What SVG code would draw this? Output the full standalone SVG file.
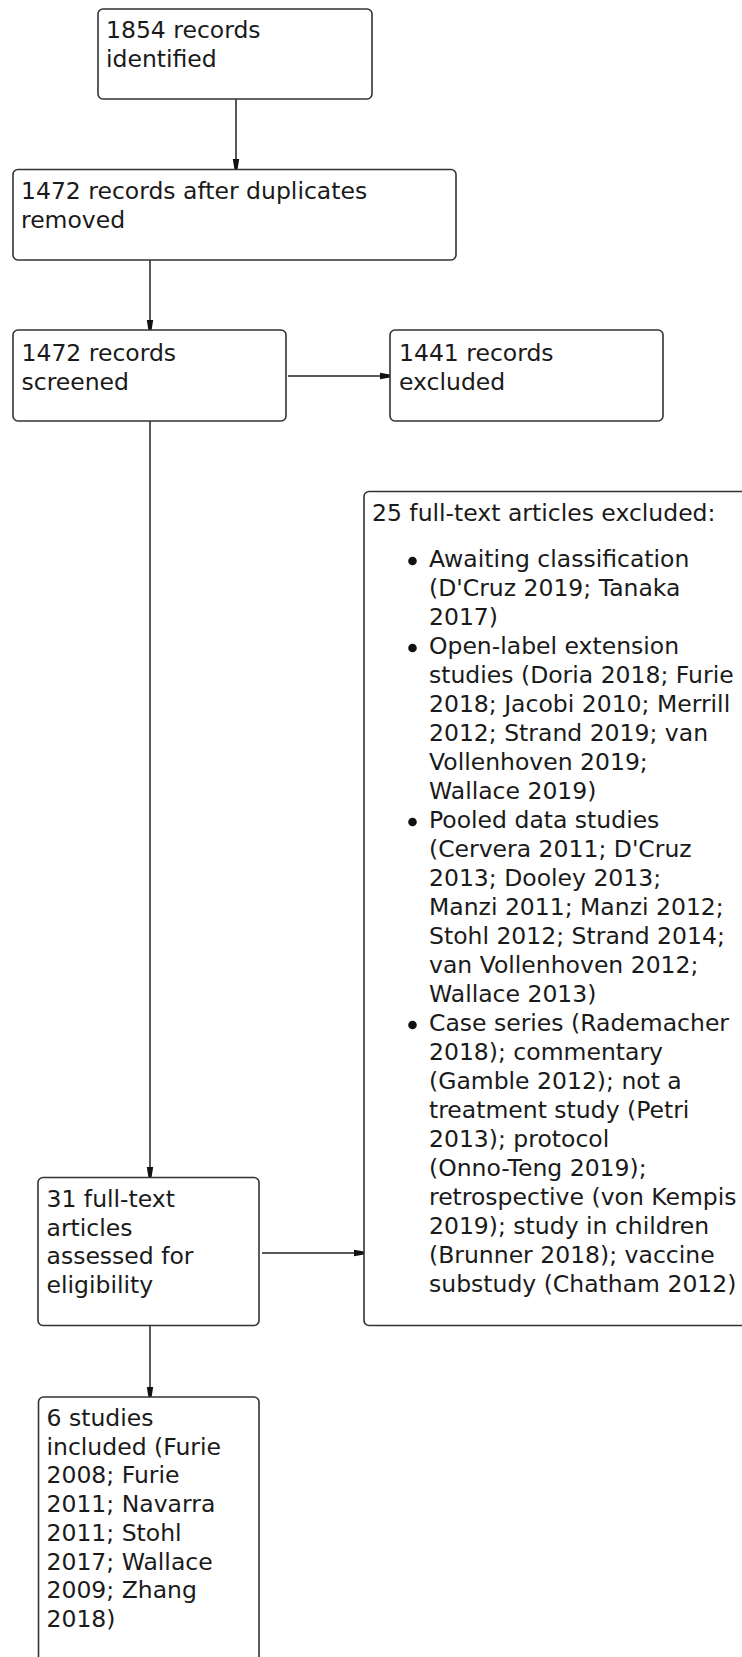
<svg xmlns="http://www.w3.org/2000/svg" width="742" height="1657" viewBox="0 0 742 1657">
<defs>
<style>
.box{fill:#fff;stroke:#333;stroke-width:1.6}
.t{font-family:"DejaVu Sans",Verdana,sans-serif;font-size:23.5px;fill:#1a1a1a}
.c{stroke:#222;stroke-width:1.5;fill:none;marker-end:url(#ah)}
</style>
<marker id="ah" viewBox="0 0 10 8" refX="10" refY="4" markerWidth="10" markerHeight="8" markerUnits="userSpaceOnUse" orient="auto">
<path d="M0,0.8 L10,2.4 L10,5.6 L0,7.2 z" fill="#111"/>
</marker>
</defs>
<g id="connectors">
<line class="c" x1="236" y1="99" x2="236" y2="169"/>
<line class="c" x1="150" y1="260" x2="150" y2="330"/>
<line class="c" x1="288" y1="376" x2="390" y2="376"/>
<line class="c" x1="150" y1="421" x2="150" y2="1177"/>
<line class="c" x1="262" y1="1253" x2="364" y2="1253"/>
<line class="c" x1="150" y1="1326" x2="150" y2="1397"/>
</g>
<g id="n1">
<rect class="box" x="98" y="9" width="274" height="90" rx="5"/>
<text class="t" x="106" y="38">1854 records<tspan x="106" dy="28.7">identified</tspan></text>
</g>
<g id="n2">
<rect class="box" x="13" y="169.5" width="443" height="90.5" rx="5"/>
<text class="t" x="21" y="199">1472 records after duplicates<tspan x="21" dy="28.7">removed</tspan></text>
</g>
<g id="n3">
<rect class="box" x="13" y="330" width="273" height="91" rx="5"/>
<text class="t" x="21.5" y="361">1472 records<tspan x="21.5" dy="28.7">screened</tspan></text>
</g>
<g id="n4">
<rect class="box" x="390" y="330" width="273" height="91" rx="5"/>
<text class="t" x="399" y="361">1441 records<tspan x="399" dy="28.7">excluded</tspan></text>
</g>
<g id="n5">
<rect class="box" x="364" y="491.5" width="400" height="834" rx="5"/>
<text class="t" x="372" y="521">25 full-text articles excluded:</text>
<g fill="#111">
<circle cx="412.5" cy="561" r="4.3"/>
<circle cx="412.5" cy="648" r="4.3"/>
<circle cx="412.5" cy="822" r="4.3"/>
<circle cx="412.5" cy="1025" r="4.3"/>
</g>
<text class="t" x="429" y="567">Awaiting classification<tspan x="429" dy="29">(D'Cruz 2019; Tanaka</tspan><tspan x="429" dy="29">2017)</tspan><tspan x="429" dy="29">Open-label extension</tspan><tspan x="429" dy="29">studies (Doria 2018; Furie</tspan><tspan x="429" dy="29">2018; Jacobi 2010; Merrill</tspan><tspan x="429" dy="29">2012; Strand 2019; van</tspan><tspan x="429" dy="29">Vollenhoven 2019;</tspan><tspan x="429" dy="29">Wallace 2019)</tspan><tspan x="429" dy="29">Pooled data studies</tspan><tspan x="429" dy="29">(Cervera 2011; D'Cruz</tspan><tspan x="429" dy="29">2013; Dooley 2013;</tspan><tspan x="429" dy="29">Manzi 2011; Manzi 2012;</tspan><tspan x="429" dy="29">Stohl 2012; Strand 2014;</tspan><tspan x="429" dy="29">van Vollenhoven 2012;</tspan><tspan x="429" dy="29">Wallace 2013)</tspan><tspan x="429" dy="29">Case series (Rademacher</tspan><tspan x="429" dy="29">2018); commentary</tspan><tspan x="429" dy="29">(Gamble 2012); not a</tspan><tspan x="429" dy="29">treatment study (Petri</tspan><tspan x="429" dy="29">2013); protocol</tspan><tspan x="429" dy="29">(Onno-Teng 2019);</tspan><tspan x="429" dy="29">retrospective (von Kempis</tspan><tspan x="429" dy="29">2019); study in children</tspan><tspan x="429" dy="29">(Brunner 2018); vaccine</tspan><tspan x="429" dy="29">substudy (Chatham 2012)</tspan></text>
</g>
<g id="n6">
<rect class="box" x="38" y="1177.5" width="221" height="148" rx="5"/>
<text class="t" x="46.5" y="1207">31 full-text<tspan x="46.5" dy="28.7">articles</tspan><tspan x="46.5" dy="28.7">assessed for</tspan><tspan x="46.5" dy="28.7">eligibility</tspan></text>
</g>
<g id="n7">
<rect class="box" x="38.5" y="1397" width="220.5" height="300" rx="5"/>
<text class="t" x="46.5" y="1426">6 studies<tspan x="46.5" dy="28.7">included (Furie</tspan><tspan x="46.5" dy="28.7">2008; Furie</tspan><tspan x="46.5" dy="28.7">2011; Navarra</tspan><tspan x="46.5" dy="28.7">2011; Stohl</tspan><tspan x="46.5" dy="28.7">2017; Wallace</tspan><tspan x="46.5" dy="28.7">2009; Zhang</tspan><tspan x="46.5" dy="28.7">2018)</tspan></text>
</g>
</svg>
